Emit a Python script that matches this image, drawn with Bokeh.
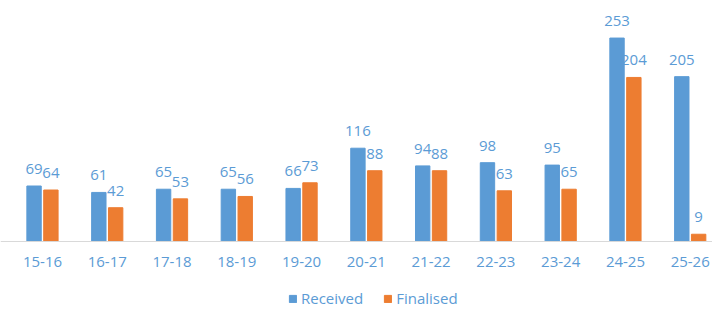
from bokeh.plotting import figure
from bokeh.models import ColumnDataSource, LabelSet, Legend, LegendItem, Range1d, Span
from bokeh.core.properties import value
from bokeh.embed import file_html
from bokeh.resources import INLINE

categories = ["15-16", "16-17", "17-18", "18-19", "19-20", "20-21", "21-22", "22-23", "23-24", "24-25", "25-26"]
received = [69, 61, 65, 65, 66, 116, 94, 98, 95, 253, 205]
finalised = [64, 42, 53, 56, 73, 88, 88, 63, 65, 204, 9]

BLUE = "#5B9BD5"
ORANGE = "#ED7D31"
TEXT = "#5B9BD5"
FONT = "Open Sans"

idx = list(range(len(categories)))
off = 0.13
bw = 0.222

src_r = ColumnDataSource(dict(x=[i - off for i in idx], v=received, t=[str(v) for v in received]))
src_f = ColumnDataSource(dict(x=[i + off for i in idx], v=finalised, t=[str(v) for v in finalised]))
src_c = ColumnDataSource(dict(x=idx, y=[0] * len(idx), t=categories))

p = figure(width=712, height=307, output_backend="svg", toolbar_location=None,
           x_range=Range1d(-0.648, 10.344), y_range=Range1d(-82.1, 299.7),
           x_axis_location=None, y_axis_location=None,
           min_border_left=0, min_border_right=0, min_border_top=0, min_border_bottom=0)
p.outline_line_color = None
p.grid.visible = False
p.background_fill_color = "white"

# baseline (category axis line)
p.add_layout(Span(location=0, dimension="width", line_color="#d9d9d9", line_width=1))

r1 = p.vbar(x="x", top="v", width=bw, source=src_r, fill_color=BLUE, line_color=BLUE)
r2 = p.vbar(x="x", top="v", width=bw, source=src_f, fill_color=ORANGE, line_color=ORANGE)

for s in (src_r, src_f):
    p.add_layout(LabelSet(x="x", y="v", text="t", source=s, text_align="center",
                          text_baseline="alphabetic", y_offset=12, text_color=TEXT,
                          text_font_size="15px", text_font=value(FONT)))

# category labels under the baseline
p.add_layout(LabelSet(x="x", y="y", text="t", source=src_c, text_align="center",
                      text_baseline="middle", y_offset=-21, text_color=TEXT,
                      text_font_size="15px", text_font=value(FONT)))

legend = Legend(items=[LegendItem(label="Received", renderers=[r1]),
                       LegendItem(label="Finalised", renderers=[r2])],
                orientation="horizontal", location=(288, -1),
                glyph_width=9, glyph_height=9, label_standoff=4, spacing=20,
                label_height=16, label_text_baseline="middle",
                label_text_color=TEXT, label_text_font=FONT, label_text_font_size="15px",
                border_line_color=None, background_fill_alpha=0, padding=0, margin=0)
p.add_layout(legend)

open("out.html", "w").write(file_html(p, INLINE))
